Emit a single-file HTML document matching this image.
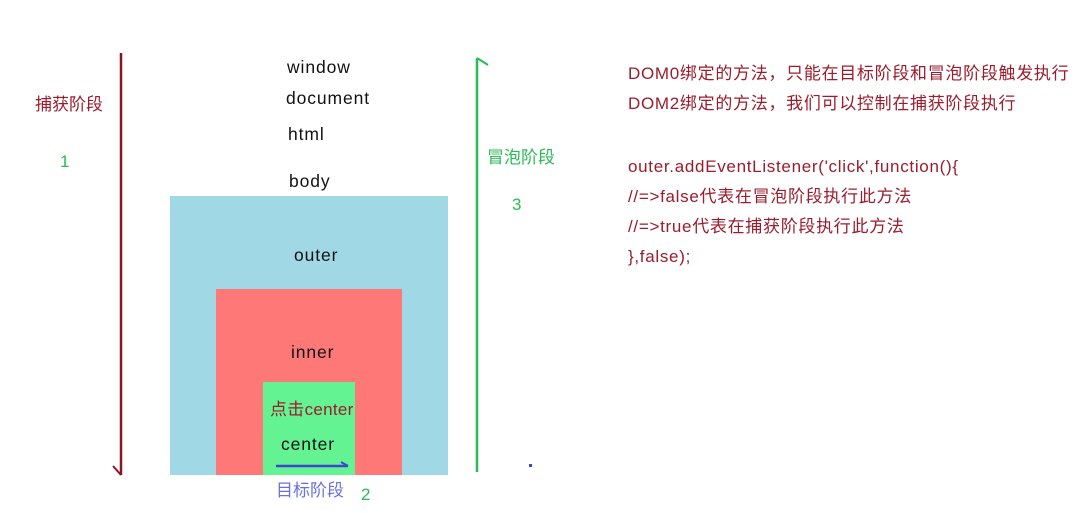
<!DOCTYPE html>
<html><head><meta charset="utf-8"><style>
body{margin:0;width:1084px;height:513px;background:#fff;position:relative;overflow:hidden;font-family:"Liberation Sans","Noto Sans CJK SC",sans-serif;}
.t{position:absolute;white-space:nowrap;font-size:17px;line-height:20px;}
.k{color:#111;letter-spacing:0.9px;font-size:17.5px;}
.r{color:#9b1c2c;}
.rt{letter-spacing:0.7px;}
.g{color:#2bbb55;}
.b{position:absolute;}
</style></head><body>
<div class="b" style="left:170px;top:196px;width:278px;height:279px;background:#a0d8e6"></div>
<div class="b" style="left:216px;top:289px;width:186px;height:186px;background:#fe7878"></div>
<div class="b" style="left:263px;top:382px;width:92px;height:93px;background:#63f393"></div>
<svg class="b" style="left:0;top:0" width="1084" height="513">
<line x1="121" y1="53" x2="121" y2="475" stroke="#8b1420" stroke-width="2.5"/>
<line x1="121" y1="475" x2="113" y2="466" stroke="#8b1420" stroke-width="2"/>
<line x1="477" y1="58" x2="477" y2="472" stroke="#2bbb55" stroke-width="2.5"/>
<line x1="477" y1="58" x2="488" y2="65" stroke="#2bbb55" stroke-width="2"/>
<line x1="276" y1="466" x2="348" y2="466" stroke="#4045d0" stroke-width="2.5"/>
<line x1="348" y1="466" x2="341" y2="462" stroke="#4045d0" stroke-width="2"/>
<rect x="529" y="464" width="3" height="3" fill="#4045d0"/>
</svg>
<div class="t k" style="left:287px;top:57px">window</div>
<div class="t k" style="left:286px;top:88px">document</div>
<div class="t k" style="left:288px;top:124px">html</div>
<div class="t k" style="left:289px;top:171px">body</div>
<div class="t k" style="left:294px;top:245px">outer</div>
<div class="t k" style="left:291px;top:342px">inner</div>
<div class="t r" style="left:270px;top:400px;letter-spacing:0.3px">点击center</div>
<div class="t k" style="left:281px;top:434px">center</div>
<div class="t r" style="left:35px;top:95px">捕获阶段</div>
<div class="t g" style="left:60px;top:152px">1</div>
<div class="t g" style="left:487px;top:148px">冒泡阶段</div>
<div class="t g" style="left:512px;top:195px">3</div>
<div class="t" style="left:276px;top:481px;color:#6a70e0">目标阶段</div>
<div class="t g" style="left:361px;top:485px">2</div>
<div class="t r rt" style="left:628px;top:64px">DOM0绑定的方法，只能在目标阶段和冒泡阶段触发执行</div>
<div class="t r rt" style="left:628px;top:94px">DOM2绑定的方法，我们可以控制在捕获阶段执行</div>
<div class="t r rt" style="left:628px;top:157px">outer.addEventListener('click',function(){</div>
<div class="t r rt" style="left:628px;top:187px">//=&gt;false代表在冒泡阶段执行此方法</div>
<div class="t r rt" style="left:628px;top:217px">//=&gt;true代表在捕获阶段执行此方法</div>
<div class="t r rt" style="left:628px;top:247px">},false);</div>
</body></html>
